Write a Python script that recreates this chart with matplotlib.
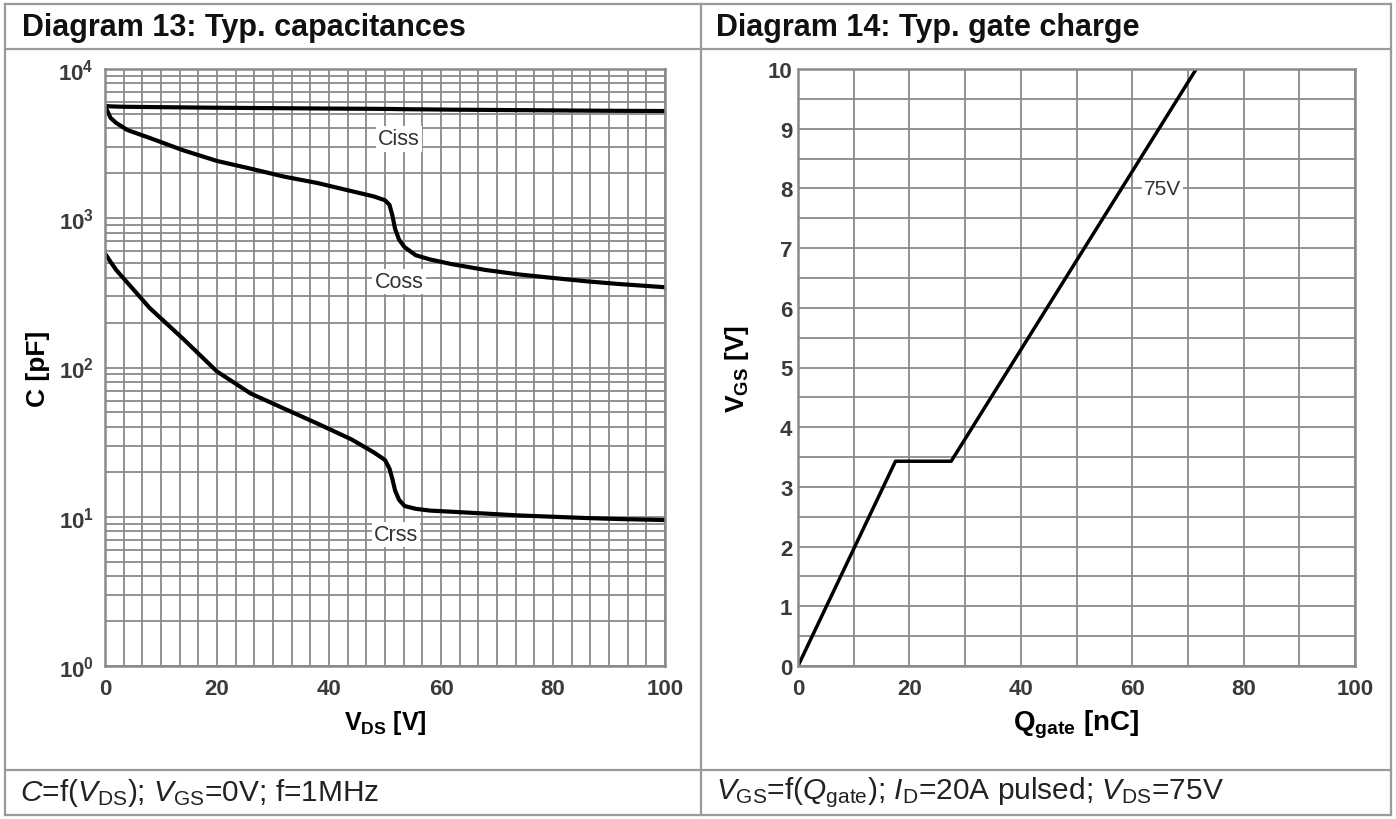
import numpy as np
import matplotlib.pyplot as plt
from matplotlib import rcParams
from matplotlib.ticker import LogLocator, NullFormatter

rcParams['font.family'] = 'Liberation Sans'
rcParams['mathtext.fontset'] = 'custom'
rcParams['mathtext.rm'] = 'Liberation Sans'
rcParams['mathtext.it'] = 'Liberation Sans:italic'
rcParams['mathtext.bf'] = 'Liberation Sans:bold'

# Diagram 13: capacitances vs drain-source voltage
vds = [0, 1, 2, 4, 8, 14, 20, 26, 32, 38, 44, 48, 50, 50.8, 51.3, 51.8, 52.5, 53.5, 55.5, 58, 62, 68, 74, 80, 86, 92, 100]
ciss = [5650, 5620, 5600, 5580, 5560, 5530, 5500, 5480, 5460, 5440, 5420, 5410, 5400, 5400, 5395, 5390, 5385, 5380, 5370, 5360, 5340, 5320, 5300, 5280, 5260, 5245, 5230]
coss = [5650, 4700, 4350, 3900, 3450, 2850, 2420, 2150, 1900, 1720, 1520, 1400, 1320, 1230, 1050, 850, 720, 640, 565, 530, 492, 450, 420, 398, 378, 362, 345]
crss = [580, 510, 450, 370, 250, 155, 94, 67, 53, 42, 33, 27, 24, 21, 18, 15, 13, 11.8, 11.3, 11.0, 10.8, 10.5, 10.2, 10.0, 9.8, 9.65, 9.5]

cap_labels = ['Ciss', 'Coss', 'Crss']
cap_label_x = [52.5, 52.5, 52]
cap_label_y = [3400, 375, 7.6]

# Diagram 14: gate charge
qgate = [0, 17.5, 27.5, 71.5]
vgs = [0, 3.43, 3.43, 10]

grid_col = '#8a8a8a'
tick_col = '#3a3a3a'
border_col = '#9a9a9a'

fig = plt.figure(figsize=(13.96, 8.2), dpi=100)

# table frame around both diagrams
bg = fig.add_axes([0, 0, 1, 1])
bg.set_xlim(0, 1396)
bg.set_ylim(820, 0)
bg.axis('off')
for x in (5, 701, 1391):
    bg.plot([x, x], [5, 816], color=border_col, lw=1.6)
for y in (5, 50, 771, 816):
    bg.plot([5, 1391], [y, y], color=border_col, lw=1.6)

bg.text(22, 28, 'Diagram 13: Typ. capacitances', fontsize=22, fontweight='bold',
        va='center', ha='left', color='#111111')
bg.text(716, 28, 'Diagram 14: Typ. gate charge', fontsize=22, fontweight='bold',
        va='center', ha='left', color='#111111')
bg.text(20, 793, r'$\mathit{C}$=f($\mathit{V}_{\mathrm{DS}}$); $\mathit{V}_{\mathrm{GS}}$=0V; f=1MHz',
        fontsize=21.5, va='center', ha='left', color='#222222')
bg.text(716, 793, r'$\mathit{V}_{\mathrm{GS}}$=f($\mathit{Q}_{\mathrm{gate}}$); $\mathit{I}_{\mathrm{D}}$=20A pulsed; $\mathit{V}_{\mathrm{DS}}$=75V',
        fontsize=21.5, va='center', ha='left', color='#222222')


def style_axes(ax, ypad):
    for s in ax.spines.values():
        s.set_color(grid_col)
        s.set_linewidth(1.8)
    ax.tick_params(which='both', length=0, labelsize=16, colors=tick_col)
    ax.tick_params(axis='x', pad=9)
    ax.tick_params(axis='y', pad=ypad)
    for lab in ax.get_xticklabels() + ax.get_yticklabels():
        lab.set_fontweight('bold')


# left: capacitances on log scale
ax1 = fig.add_axes([105 / 1396, 1 - 667 / 820, 560 / 1396, 597 / 820])
ax1.set_yscale('log')
ax1.set_xlim(0, 100)
ax1.set_ylim(1, 1e4)
ax1.set_xticks([0, 20, 40, 60, 80, 100])
ax1.set_xticks(np.linspace(0, 100, 31), minor=True)
ax1.set_yticks([1, 10, 100, 1000, 10000])
ax1.set_yticklabels([r'$\mathbf{10^{%d}}$' % k for k in range(5)])
ax1.yaxis.set_minor_locator(LogLocator(base=10, subs=np.arange(2, 10), numticks=20))
ax1.yaxis.set_minor_formatter(NullFormatter())
ax1.grid(which='both', color=grid_col, lw=1.3)
ax1.set_axisbelow(True)
style_axes(ax1, 8)

for series in (ciss, coss, crss):
    ax1.plot(vds, series, color='black', lw=3.0, solid_capstyle='round')
for name, lx, ly in zip(cap_labels, cap_label_x, cap_label_y):
    ax1.text(lx, ly, name, fontsize=15.5, ha='center', va='center', color='#333333',
             bbox=dict(facecolor='white', edgecolor='none', pad=1.5))

ax1.set_xlabel(r'$\mathbf{V}_{\mathbf{DS}}$ [V]', fontsize=18, fontweight='bold', labelpad=6)
ax1.set_ylabel('C [pF]', fontsize=19, fontweight='bold', labelpad=6)

# right: gate charge
ax2 = fig.add_axes([798 / 1396, 1 - 667 / 820, 557 / 1396, 597 / 820])
ax2.set_xlim(0, 100)
ax2.set_ylim(0, 10)
ax2.set_xticks([0, 20, 40, 60, 80, 100])
ax2.set_xticks(np.arange(0, 101, 10), minor=True)
ax2.set_yticks(np.arange(0, 11, 1))
ax2.set_yticks(np.arange(0, 10.01, 0.5), minor=True)
ax2.grid(which='both', color=grid_col, lw=1.3)
ax2.set_axisbelow(True)
style_axes(ax2, 4)

ax2.plot(qgate, vgs, color='black', lw=2.5)
ax2.text(65.5, 7.99, '75V', fontsize=15, ha='center', va='center', color='#333333',
         bbox=dict(facecolor='white', edgecolor='none', pad=1.5))

ax2.set_xlabel(r'$\mathbf{Q}_{\mathbf{gate}}$ [nC]', fontsize=20, fontweight='bold', labelpad=6)
ax2.set_ylabel(r'$\mathbf{V}_{\mathbf{GS}}$ [V]', fontsize=19, fontweight='bold', labelpad=12)

fig.savefig('out.png', dpi=100)
